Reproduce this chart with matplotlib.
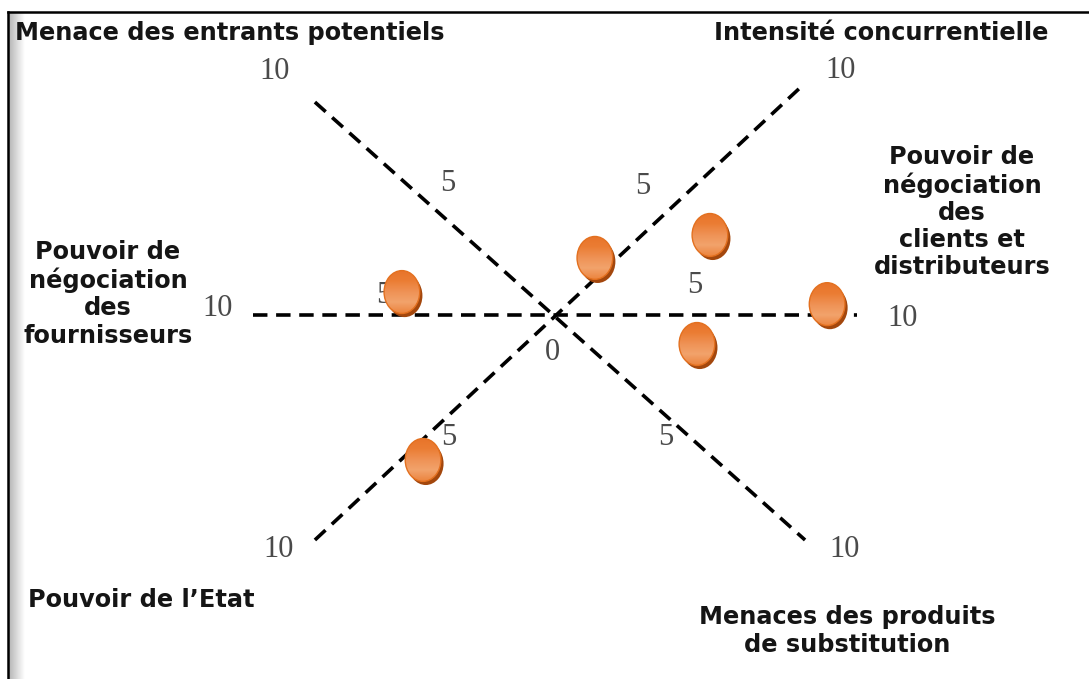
import numpy as np
import matplotlib.pyplot as plt
from matplotlib.patches import Ellipse
from matplotlib.lines import Line2D
from matplotlib.colors import LinearSegmentedColormap

# Scores on a 0-10 scale; each dashed axis ends at 10
force_names = ['Menace des entrants potentiels', 'Intensité concurrentielle',
               'Pouvoir de\nnégociation\ndes\nfournisseurs',
               'Pouvoir de\nnégociation\ndes\nclients et\ndistributeurs',
               'Pouvoir de l’Etat', 'Menaces des produits\nde substitution']

# axis end points (value 10) in chart units, opposite ends paired
axis_start_x = [-10.0, -7.95, -7.95]
axis_start_y = [0.0, 7.05, -7.45]
axis_end_x = [10.0, 8.28, 8.11]
axis_end_y = [0.0, -7.45, 7.52]

# tick values written along the axes
tick_text = ['10', '5', '10', '5', '10', '5', '10', '5', '10', '5', '10', '5', '0']
tick_x = [-9.27, -3.54, 9.44, 2.91, -11.16, -5.66, 11.52, 4.64, -9.17, -3.51, 9.60, 3.68, -0.07]
tick_y = [8.05, 4.37, 8.11, 4.24, 0.23, 0.63, -0.10, 0.99, -7.78, -4.07, -7.78, -4.04, -1.23]

# positions of the company markers
pion_x = [-5.07, 1.32, 5.13, 9.01, 4.70, -4.37]
pion_y = [0.76, 1.89, 2.65, 0.36, -0.96, -4.80]

W, H = 1089, 679
PX = 30.2          # pixels per unit
CX, CY = 555, 315  # centre in pixels

fig = plt.figure(figsize=(W / 100, H / 100), dpi=100)
ax = fig.add_axes([0, 0, 1, 1])
ax.axis('off')

# dashed axes
for x0, y0, x1, y1 in zip(axis_start_x, axis_start_y, axis_end_x, axis_end_y):
    ax.plot([x0, x1], [y0, y1], color='black', lw=2.6,
            linestyle=(0, (4.0, 2.4)), zorder=2)

# scale numbers
for t, x, y in zip(tick_text, tick_x, tick_y):
    ax.text(x, y, t, ha='center', va='center', fontsize=22,
            family='Liberation Serif', color='#4a4a4a', zorder=1)

# orange markers with a dark shadow and a vertical gradient
cmap = LinearSegmentedColormap.from_list(
    'pion', ['#e8742a', '#eb7d34', '#ef9255', '#f2a36c', '#ec8540'])
grad = np.linspace(0, 1, 64).reshape(-1, 1)
w, h = 1.18, 1.42
for x, y in zip(pion_x, pion_y):
    ax.add_patch(Ellipse((x + 0.09, y - 0.12), w, h, fc='#a3470d', ec='none', zorder=3))
    body = Ellipse((x, y), w, h, fc='none', ec='#e3701f', lw=1.0, zorder=5)
    ax.add_patch(body)
    im = ax.imshow(grad, cmap=cmap, origin='upper', aspect='auto', zorder=4,
                   extent=(x - w / 2, x + w / 2, y - h / 2, y + h / 2))
    im.set_clip_path(body)

ax.set_xlim(-CX / PX, (W - CX) / PX)
ax.set_ylim(-(H - CY) / PX, CY / PX)

# force labels
lab = dict(fontsize=17.3, fontweight='bold', family='DejaVu Sans', color='#151515',
           linespacing=1.17)
fig.text(15 / W, 1 - 33 / H, force_names[0], ha='left', va='center', **lab)
fig.text(881 / W, 1 - 33 / H, force_names[1], ha='center', va='center', **lab)
fig.text(108 / W, 1 - 294 / H, force_names[2], ha='center', va='center', **lab)
fig.text(962 / W, 1 - 212 / H, force_names[3], ha='center', va='center', **lab)
fig.text(28 / W, 1 - 600 / H, force_names[4], ha='left', va='center', **lab)
fig.text(847 / W, 1 - 631 / H, force_names[5], ha='center', va='center', **lab)

# frame: top and left rules with a soft shadow on the left
fig.add_artist(Line2D([8 / W, 1], [1 - 12 / H] * 2, color='black', lw=1.8,
                      transform=fig.transFigure))
fig.add_artist(Line2D([8 / W, 8 / W], [0, 1 - 12 / H], color='black', lw=1.8,
                      transform=fig.transFigure))
sh = fig.add_axes([9 / W, 0, 16 / W, 1 - 13 / H])
sh.imshow(np.linspace(0, 1, 32).reshape(1, -1), cmap='gray', vmin=-2.5, vmax=1,
          aspect='auto')
sh.axis('off')

fig.savefig('out.png', dpi=100)
